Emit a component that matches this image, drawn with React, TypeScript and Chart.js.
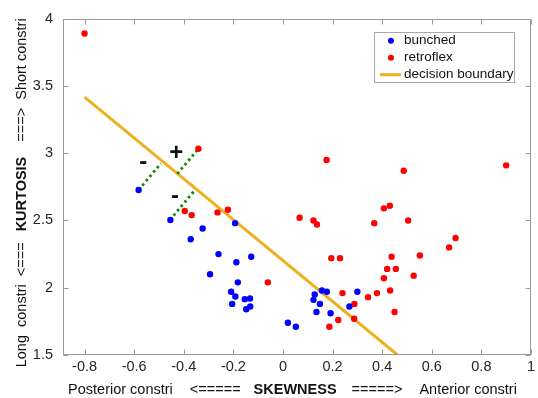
import React, { useEffect, useRef } from "react";
import { Chart, registerables } from "chart.js";

Chart.register(...registerables);

// ---------- data ----------
const bunchedX = [-0.582, -0.454, -0.324, -0.372, -0.193, -0.26, -0.128, -0.188, -0.294, -0.182, -0.209, -0.192, -0.205, -0.154, -0.133, -0.148, -0.132, 0.157, 0.177, 0.128, 0.123, 0.149, 0.3, 0.268, 0.135, 0.192, 0.02, 0.052];
const bunchedY = [2.727, 2.504, 2.44, 2.36, 2.48, 2.25, 2.23, 2.19, 2.1, 2.04, 1.97, 1.935, 1.88, 1.915, 1.92, 1.84, 1.86, 1.98, 1.97, 1.95, 1.91, 1.88, 1.97, 1.86, 1.82, 1.81, 1.74, 1.71];

const retroX = [-0.8, -0.341, -0.396, -0.368, -0.264, -0.222, -0.061, 0.176, 0.487, 0.9, 0.407, 0.431, 0.067, 0.123, 0.137, 0.368, 0.505, 0.696, 0.67, 0.195, 0.23, 0.438, 0.552, 0.42, 0.455, 0.407, 0.527, 0.24, 0.343, 0.379, 0.432, 0.288, 0.45, 0.223, 0.287, 0.187];
const retroY = [3.89, 3.033, 2.57, 2.54, 2.56, 2.58, 2.04, 2.95, 2.87, 2.91, 2.59, 2.61, 2.52, 2.5, 2.47, 2.48, 2.5, 2.37, 2.3, 2.22, 2.22, 2.23, 2.24, 2.14, 2.14, 2.07, 2.09, 1.96, 1.93, 1.96, 1.98, 1.88, 1.82, 1.76, 1.77, 1.71];

const boundaryX = [-0.8, 0.462];
const boundaryY = [3.417, 1.5];

const seg1X = [-0.582, -0.492];
const seg1Y = [2.727, 2.925];
const seg2X = [-0.426, -0.341];
const seg2Y = [2.847, 3.033];
const seg3X = [-0.456, -0.355];
const seg3Y = [2.504, 2.726];

const signLabels = ["-", "+", "-"];
const signX = [-0.563, -0.43, -0.435];
const signY = [2.935, 3.0, 2.68];

const xTicks = [-0.8, -0.6, -0.4, -0.2, 0, 0.2, 0.4, 0.6, 0.8, 1];
const xTickLabels = ["-0.8", "-0.6", "-0.4", "-0.2", "0", "0.2", "0.4", "0.6", "0.8", "1"];
const yTicks = [1.5, 2, 2.5, 3, 3.5, 4];
const yTickLabels = ["1.5", "2", "2.5", "3", "3.5", "4"];
const xRange = [-0.887, 1];
const yRange = [1.5, 4];

const legendLabels = ["bunched", "retroflex", "decision boundary"];
const xTitleParts = ["Posterior constri", "<=====", "SKEWNESS", "=====>", "Anterior constri"];
const yTitleParts = ["Long  constri  <===", "KURTOSIS", "===>  Short constri"];

// ---------- styles ----------
const FONT = '"Liberation Sans", Arial, Helvetica, sans-serif';
const BLUE = "#0000ff";
const RED = "#ff0000";
const ORANGE = "#EDB120";
const GREEN = "#0a8a0a";
const AXIS = "#9a9a9a";
const TEXT = "#262626";

const pts = (xs: number[], ys: number[]) => xs.map((x, i) => ({ x, y: ys[i] }));

const segStyle = {
  showLine: true,
  borderColor: GREEN,
  backgroundColor: GREEN,
  borderWidth: 2.8,
  borderDash: [2.6, 3.1],
  pointRadius: 0,
  pointHoverRadius: 0,
  fill: false,
};

const decorPlugin = {
  id: "decor",
  afterDatasetsDraw(chart: any) {
    const { ctx, scales } = chart;
    ctx.save();
    ctx.fillStyle = "#111";
    ctx.font = `bold 24px ${FONT}`;
    ctx.textAlign = "center";
    ctx.textBaseline = "middle";
    signLabels.forEach((s, i) => {
      ctx.fillText(s, scales.x.getPixelForValue(signX[i]), scales.y.getPixelForValue(signY[i]));
    });
    ctx.restore();
  },
  afterDraw(chart: any) {
    const { ctx, chartArea: ca, scales } = chart;
    ctx.save();
    // box
    ctx.strokeStyle = AXIS;
    ctx.lineWidth = 1;
    const L = Math.round(ca.left) + 0.5;
    const R = Math.round(ca.right) - 0.5;
    const T = Math.round(ca.top) + 0.5;
    const B = Math.round(ca.bottom) - 0.5;
    ctx.strokeRect(L, T, R - L, B - T);
    // ticks
    ctx.beginPath();
    const tl = 5;
    xTicks.forEach((v) => {
      const px = Math.round(scales.x.getPixelForValue(v)) + 0.5;
      ctx.moveTo(px, B);
      ctx.lineTo(px, B - tl);
      ctx.moveTo(px, T);
      ctx.lineTo(px, T + tl);
    });
    yTicks.forEach((v) => {
      const py = Math.round(scales.y.getPixelForValue(v)) + 0.5;
      ctx.moveTo(L, py);
      ctx.lineTo(L + tl, py);
      ctx.moveTo(R, py);
      ctx.lineTo(R - tl, py);
    });
    ctx.stroke();

    // x title
    const normal = `14.5px ${FONT}`;
    const bold = `bold 14.5px ${FONT}`;
    const xGaps = [17, 13, 15, 17];
    const xFonts = [normal, normal, bold, normal, normal];
    const widths = xTitleParts.map((t, i) => {
      ctx.font = xFonts[i];
      return ctx.measureText(t).width;
    });
    const total = widths.reduce((a, b) => a + b, 0) + xGaps.reduce((a, b) => a + b, 0);
    let x = (ca.left + ca.right) / 2 - 4.5 - total / 2;
    ctx.fillStyle = "#111";
    ctx.textBaseline = "middle";
    ctx.textAlign = "left";
    xTitleParts.forEach((t, i) => {
      ctx.font = xFonts[i];
      ctx.fillText(t, x, ca.bottom + 35);
      x += widths[i] + (xGaps[i] || 0);
    });

    // y title (rotated)
    const yFonts = [normal, bold, normal];
    const yGaps = [11, 15];
    const yw = yTitleParts.map((t, i) => {
      ctx.font = yFonts[i];
      return ctx.measureText(t).width;
    });
    const ytot = yw.reduce((a, b) => a + b, 0) + yGaps.reduce((a, b) => a + b, 0);
    ctx.save();
    ctx.translate(22, (ca.top + ca.bottom) / 2 + 6);
    ctx.rotate(-Math.PI / 2);
    let yx = -ytot / 2;
    yTitleParts.forEach((t, i) => {
      ctx.font = yFonts[i];
      ctx.fillText(t, yx, 0);
      yx += yw[i] + (yGaps[i] || 0);
    });
    ctx.restore();

    // legend
    const lx = ca.right - 157;
    const ly = ca.top + 13;
    const lw = 140;
    const lh = 50;
    ctx.fillStyle = "#fff";
    ctx.fillRect(lx, ly, lw, lh);
    ctx.strokeStyle = "#a8a8a8";
    ctx.strokeRect(Math.round(lx) + 0.5, Math.round(ly) + 0.5, lw, lh);
    const rows = [ly + 9, ly + 26, ly + 43];
    ctx.fillStyle = BLUE;
    ctx.beginPath();
    ctx.arc(lx + 17, rows[0], 3, 0, Math.PI * 2);
    ctx.fill();
    ctx.fillStyle = RED;
    ctx.beginPath();
    ctx.arc(lx + 17, rows[1], 3, 0, Math.PI * 2);
    ctx.fill();
    ctx.strokeStyle = ORANGE;
    ctx.lineWidth = 3;
    ctx.beginPath();
    ctx.moveTo(lx + 6, rows[2]);
    ctx.lineTo(lx + 27, rows[2]);
    ctx.stroke();
    ctx.fillStyle = "#111";
    ctx.font = `13.5px ${FONT}`;
    ctx.textAlign = "left";
    ctx.textBaseline = "middle";
    legendLabels.forEach((t, i) => ctx.fillText(t, lx + 30, rows[i]));
    ctx.restore();
  },
};

export default function App() {
  const ref = useRef<HTMLCanvasElement>(null);
  useEffect(() => {
    const chart = new Chart(ref.current as HTMLCanvasElement, {
      type: "scatter",
      data: {
        datasets: [
          {
            label: legendLabels[0],
            data: pts(bunchedX, bunchedY),
            backgroundColor: BLUE,
            borderWidth: 0,
            pointRadius: 3.2,
          },
          {
            label: legendLabels[1],
            data: pts(retroX, retroY),
            backgroundColor: RED,
            borderWidth: 0,
            pointRadius: 3.2,
          },
          { label: "s1", data: pts(seg1X, seg1Y), ...segStyle },
          { label: "s2", data: pts(seg2X, seg2Y), ...segStyle },
          { label: "s3", data: pts(seg3X, seg3Y), ...segStyle },
          {
            label: legendLabels[2],
            data: pts(boundaryX, boundaryY),
            showLine: true,
            borderColor: ORANGE,
            backgroundColor: ORANGE,
            borderWidth: 3,
            pointRadius: 0,
            fill: false,
          },
        ] as any,
      },
      options: {
        responsive: false,
        maintainAspectRatio: false,
        animation: false,
        devicePixelRatio: 1,
        layout: { padding: { top: 13, right: 5, left: 0, bottom: 0 } },
        plugins: { legend: { display: false }, tooltip: { enabled: false } },
        scales: {
          x: {
            type: "linear",
            position: "bottom",
            min: xRange[0],
            max: xRange[1],
            grid: { display: false, drawTicks: false, tickLength: 0 },
            border: { display: false },
            ticks: {
              autoSkip: false,
              maxRotation: 0,
              padding: 3,
              color: TEXT,
              font: { size: 14.5, family: FONT },
              callback: (v: any) => {
                const i = xTicks.indexOf(Number(v));
                return i >= 0 ? xTickLabels[i] : "";
              },
            },
            afterBuildTicks: (s: any) => {
              s.ticks = xTicks.map((value) => ({ value }));
            },
            afterFit: (s: any) => {
              s.height = 43;
            },
          },
          y: {
            type: "linear",
            position: "left",
            min: yRange[0],
            max: yRange[1],
            grid: { display: false, drawTicks: false, tickLength: 0 },
            border: { display: false },
            ticks: {
              autoSkip: false,
              padding: 10,
              color: TEXT,
              font: { size: 14.5, family: FONT },
              callback: (v: any) => {
                const i = yTicks.indexOf(Number(v));
                return i >= 0 ? yTickLabels[i] : "";
              },
            },
            afterBuildTicks: (s: any) => {
              s.ticks = yTicks.map((value) => ({ value }));
            },
            afterFit: (s: any) => {
              s.width = 63;
            },
          },
        },
      } as any,
      plugins: [decorPlugin],
    });
    return () => chart.destroy();
  }, []);
  return (
    <div style={{ position: "fixed", left: 0, top: 0, width: 538, height: 398, background: "#fff" }}>
      <canvas ref={ref} width={538} height={398} style={{ display: "block", width: 538, height: 398 }} />
    </div>
  );
}
